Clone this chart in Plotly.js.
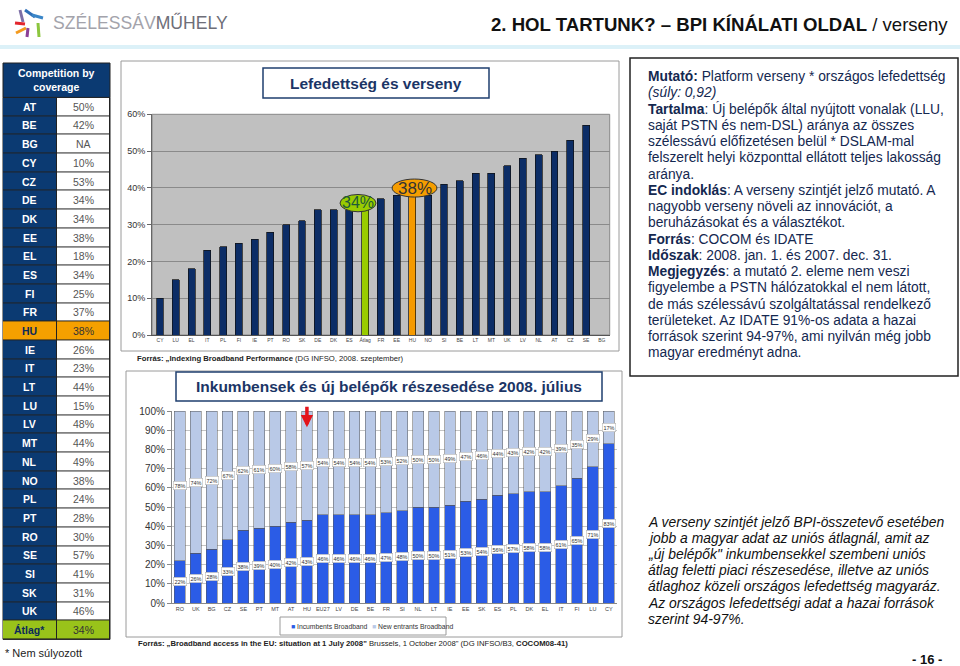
<!DOCTYPE html>
<html><head><meta charset="utf-8">
<script src="https://cdn.plot.ly/plotly-3.0.1.min.js"></script>
<style>html,body{margin:0;padding:0;background:#fff}#chart{width:960px;height:666px}</style>
</head><body><div id="chart"></div>
<script>
// ---- data: left table ----
const tableCountries = ['AT','BE','BG','CY','CZ','DE','DK','EE','EL','ES','FI','FR','HU','IE','IT','LT','LU','LV','MT','NL','NO','PL','PT','RO','SE','SI','SK','UK','Átlag*'];
const tableValues = ['50%','42%','NA','10%','53%','34%','34%','38%','18%','34%','25%','37%','38%','26%','23%','44%','15%','48%','44%','49%','38%','24%','28%','30%','57%','41%','31%','46%','34%'];
const tableColumns = [0, 1];

// ---- data: coverage & competition chart ----
const covCats = ['CY','LU','EL','IT','PL','FI','IE','PT','RO','SK','DE','DK','ES','Átlag','FR','EE','HU','NO','SI','BE','LT','MT','UK','LV','NL','AT','CZ','SE','BG'];
const covVals = [10,15,18,23,24,25,26,28,30,31,34,34,34,34,37,38,38,38,41,42,44,44,46,48,49,50,53,57,null];

// ---- data: incumbents vs new entrants chart ----
const shareCats = ['RO','UK','BG','CZ','SE','PT','MT','AT','HU','EU27','LV','DE','BE','FR','SI','NL','LT','IE','EE','SK','ES','PL','DK','EL','IT','FI','LU','CY'];
const incumbents = [22,26,28,33,38,39,40,42,43,46,46,46,46,47,48,50,50,51,53,54,56,57,58,58,61,65,71,83];
const newEntrants = [78,74,72,67,62,61,60,58,57,54,54,54,54,53,52,50,50,49,47,46,44,43,42,42,39,35,29,17];

// ---- texts ----
const rightLines = [
  '<b>Mutató:</b> Platform verseny * országos lefedettség',
  '<i>(súly: 0,92)</i>',
  '<b>Tartalma</b>: Új belépők által nyújtott vonalak (LLU,',
  'saját PSTN és nem-DSL) aránya az összes',
  'szélessávú előfizetésen belül * DSLAM-mal',
  'felszerelt helyi központtal ellátott teljes lakosság',
  'aránya.',
  '<b>EC indoklás</b>: A verseny szintjét jelző mutató. A',
  'nagyobb verseny növeli az innovációt, a',
  'beruházásokat és a választékot.',
  '<b>Forrás</b>: COCOM és IDATE',
  '<b>Időszak</b>: 2008. jan. 1. és 2007. dec. 31.',
  '<b>Megjegyzés</b>: a mutató 2. eleme nem veszi',
  'figyelembe a PSTN hálózatokkal el nem látott,',
  'de más szélessávú szolgáltatással rendelkező',
  'területeket. Az IDATE 91%-os adata a hazai',
  'források szerint 94-97%, ami nyilván még jobb',
  'magyar eredményt adna.'
];
const noteLines = [
  'A verseny szintjét jelző BPI-összetevő esetében',
  'jobb a magyar adat az uniós átlagnál, amit az',
  '„új belépők" inkumbensekkel szembeni uniós',
  'átlag feletti piaci részesedése, illetve az uniós',
  'átlaghoz közeli országos lefedettség magyaráz.',
  'Az országos lefedettségi adat a hazai források',
  'szerint 94-97%.'
];

const W = 960, H = 666;
const px = x => x / W, py = y => 1 - y / H;
const FONT = 'Liberation Sans, Arial, sans-serif';
const NAVY = '#0b3a72', ORANGE = '#f5a000', GREEN = '#99c31a';

// table cell colour codes: 0 navy, 1 white, 2 orange, 3 green
const rowCode = c => c === 'HU' ? 2 : (c === 'Átlag*' ? 3 : -1);
const tableZ = tableCountries.map(c => rowCode(c) >= 0 ? [rowCode(c), rowCode(c)] : [0, 1]);

const covColors = covCats.map(c => c === 'Átlag' ? '#99cc00' : (c === 'HU' ? '#f59a00' : '#0c2d66'));

const traces = [
  {
    type: 'heatmap', x: tableColumns, y: tableCountries, z: tableZ, xaxis: 'x3', yaxis: 'y3',
    zmin: 0, zmax: 3, showscale: false, xgap: 1, ygap: 1, hoverinfo: 'skip',
    colorscale: [[0, NAVY], [0.1667, NAVY], [0.1667, '#ffffff'], [0.5, '#ffffff'], [0.5, ORANGE], [0.8333, ORANGE], [0.8333, GREEN], [1, GREEN]]
  },
  {
    type: 'bar', x: covCats, y: covVals, xaxis: 'x', yaxis: 'y',
    width: 0.44, showlegend: false, hoverinfo: 'skip',
    marker: {color: covColors, line: {color: '#111', width: 0.7}}
  },
  {
    type: 'bar', x: shareCats, y: incumbents, xaxis: 'x2', yaxis: 'y2',
    name: 'Incumbents Broadband', width: 0.68, hoverinfo: 'skip', showlegend: false,
    marker: {color: '#2b5ce6', line: {color: '#555', width: 0.5}}
  },
  {
    type: 'bar', x: shareCats, y: newEntrants, xaxis: 'x2', yaxis: 'y2',
    name: 'New entrants Broadband', width: 0.68, hoverinfo: 'skip', showlegend: false,
    marker: {color: '#b9c9e7', line: {color: '#555', width: 0.5}}
  }
];

const annotations = [];
// header
annotations.push({xref:'paper', yref:'paper', x:px(950), y:py(25), xanchor:'right', yanchor:'middle', showarrow:false,
  text:'<b>2. HOL TARTUNK? – BPI KÍNÁLATI OLDAL</b> / verseny', font:{family:'Liberation Sans Narrow, Arial Narrow, Liberation Sans', size:18.6, color:'#111'}});
annotations.push({xref:'paper', yref:'paper', x:px(51), y:py(23), xanchor:'left', yanchor:'middle', showarrow:false,
  text:'<span style="color:#a3a3ab">SZÉLESSÁV</span><span style="color:#6e6e78">MŰHELY</span>', font:{family:'Liberation Sans Narrow, Arial Narrow, Liberation Sans', size:17.6}});
// table header, cells text + footnote
annotations.push({xref:'paper', yref:'paper', x:px(56.5), y:py(80), xanchor:'center', yanchor:'middle', showarrow:false,
  text:'<b>Competition by<br>coverage</b>', font:{family:FONT, size:10.5, color:'#fff'}});
tableCountries.forEach((c, i) => {
  const special = rowCode(c) >= 0;
  annotations.push({xref:'x3', yref:'y3', x:tableColumns[0], y:c, showarrow:false, text:'<b>' + c + '</b>',
    font:{family:FONT, size:10.5, color: special ? '#0b2a5a' : '#ffffff'}});
  annotations.push({xref:'x3', yref:'y3', x:tableColumns[1], y:c, showarrow:false, text:tableValues[i],
    font:{family:FONT, size:10.5, color: special ? '#333' : '#555'}});
});
annotations.push({xref:'paper', yref:'paper', x:px(3), y:py(653), xanchor:'left', yanchor:'middle', showarrow:false,
  text:'* Nem súlyozott', font:{family:FONT, size:11, color:'#222'}});
// chart titles
annotations.push({xref:'paper', yref:'paper', x:px(376), y:py(83), xanchor:'center', yanchor:'middle', showarrow:false,
  text:'<b>Lefedettség és verseny</b>', font:{family:FONT, size:15.5, color:'#1b3566'}});
annotations.push({xref:'paper', yref:'paper', x:px(389), y:py(386.5), xanchor:'center', yanchor:'middle', showarrow:false,
  text:'<b>Inkumbensek és új belépők részesedése 2008. július</b>', font:{family:FONT, size:15.5, color:'#1b3566'}});
// sources
annotations.push({xref:'paper', yref:'paper', x:px(135), y:py(358), xanchor:'left', yanchor:'middle', showarrow:false,
  text:'<b>Forrás: „Indexing Broadband Performance</b> (DG INFSO, 2008. szeptember)', font:{family:FONT, size:7.7, color:'#222'}});
annotations.push({xref:'paper', yref:'paper', x:px(136), y:py(643), xanchor:'left', yanchor:'middle', showarrow:false,
  text:'<b>Forrás: „Broadband access in the EU: situation at 1 July 2008"</b> Brussels, 1 October 2008" (DG INFSO/B3, <b>COCOM08-41)</b>', font:{family:FONT, size:7.7, color:'#222'}});
// callouts
const iAvg = covCats.indexOf('Átlag'), iHU = covCats.indexOf('HU');
annotations.push({xref:'x', yref:'y', x:iAvg - 0.45, y:covVals[iAvg] + 1.9, showarrow:false, text:'34%',
  font:{family:FONT, size:16, color:'#1d5a3a'}});
annotations.push({xref:'x', yref:'y', x:iHU + 0.13, y:covVals[iHU] + 1.95, showarrow:false, text:'38%',
  font:{family:FONT, size:17, color:'#333'}});
// red arrow at HU
annotations.push({xref:'x2', yref:'y2', x:'HU', y:91.5, ax:0, ay:-22, showarrow:true, arrowhead:2, arrowsize:0.7,
  arrowwidth:3.5, arrowcolor:'#e3141b', text:''});
// bar labels
shareCats.forEach((c, i) => {
  annotations.push({xref:'x2', yref:'y2', x:c, y:incumbents[i] / 2, showarrow:false, text:incumbents[i] + '%',
    font:{family:FONT, size:5.5, color:'#333'}, bgcolor:'#fff', bordercolor:'#aaa', borderwidth:0.5, borderpad:1});
  annotations.push({xref:'x2', yref:'y2', x:c, y:incumbents[i] + newEntrants[i] / 2, showarrow:false, text:newEntrants[i] + '%',
    font:{family:FONT, size:5.5, color:'#333'}, bgcolor:'#fff', bordercolor:'#aaa', borderwidth:0.5, borderpad:1});
});
// manual legend
annotations.push({xref:'paper', yref:'paper', x:px(289), y:py(626), xanchor:'left', yanchor:'middle', showarrow:false,
  text:'<span style="color:#2b5ce6">■</span> Incumbents Broadband', font:{family:FONT, size:6.8, color:'#333'}});
annotations.push({xref:'paper', yref:'paper', x:px(370), y:py(626), xanchor:'left', yanchor:'middle', showarrow:false,
  text:'<span style="color:#b9c9e7">■</span> New entrants Broadband', font:{family:FONT, size:6.8, color:'#333'}});
// right text
rightLines.forEach((t, i) => {
  annotations.push({xref:'paper', yref:'paper', x:px(646), y:py(76.7 + i * 16.24), xanchor:'left', yanchor:'middle',
    showarrow:false, text:t, font:{family:FONT, size:13.8, color:'#142850'}});
});
noteLines.forEach((t, i) => {
  annotations.push({xref:'paper', yref:'paper', x:px(646), y:py(521.5 + i * 16.2), xanchor:'left', yanchor:'middle',
    showarrow:false, text:'<i>' + t + '</i>', font:{family:FONT, size:13.9, color:'#111'}});
});
annotations.push({xref:'paper', yref:'paper', x:px(944), y:py(659), xanchor:'right', yanchor:'middle', showarrow:false,
  text:'<b>- 16 -</b>', font:{family:FONT, size:13, color:'#111'}});

const stick = (x0, y0, x1, y1, c) => ({type:'line', xref:'paper', yref:'paper', x0:px(x0), y0:py(y0), x1:px(x1), y1:py(y1), line:{color:c, width:3}});

const shapes = [
  // header band
  {type:'rect', xref:'paper', yref:'paper', x0:0, x1:1, y0:py(49), y1:py(45), fillcolor:'#dcf1f8', line:{width:0}},
  // logo sticks
  stick(20, 10, 23, 22, '#7d6fa6'),
  stick(25, 10, 35, 17, '#2f6fb8'),
  stick(32, 15, 43, 18, '#3a86c8'),
  stick(15, 23, 25, 24, '#e3262d'),
  stick(16, 33, 26, 28, '#f39a1e'),
  stick(28, 28, 27, 37, '#8b3f97'),
  stick(38, 23, 39, 37, '#8cc63f'),
  // table backdrop (gap colour), header, outline
  {type:'rect', xref:'x3 domain', yref:'y3 domain', x0:0, x1:1, y0:0, y1:1, fillcolor:'#222', line:{color:'#222', width:1}, layer:'below'},
  {type:'rect', xref:'paper', yref:'paper', x0:px(3), x1:px(110), y0:py(97.4), y1:py(63), fillcolor:NAVY, line:{color:'#222', width:1}},
  // top chart frame
  {type:'rect', xref:'paper', yref:'paper', x0:px(121), x1:px(619), y0:py(351), y1:py(61), line:{color:'#9a9a9a', width:1}},
  // top plot background
  {type:'rect', xref:'x domain', yref:'y domain', x0:0, x1:1, y0:0, y1:1, fillcolor:'#c0c0c0', line:{color:'#888', width:1}, layer:'below'},
  // top title box
  {type:'rect', xref:'paper', yref:'paper', x0:px(263), x1:px(489), y0:py(98), y1:py(68), fillcolor:'#fff', line:{color:'#1f3f6f', width:1.5}},
  // callout ellipses
  {type:'circle', xref:'x', yref:'y', x0:iAvg - 0.45 - 1.14, x1:iAvg - 0.45 + 1.14, y0:covVals[iAvg] - 0.5, y1:covVals[iAvg] + 4.2,
    fillcolor:'#99cc00', line:{color:'#333', width:1}},
  {type:'circle', xref:'x', yref:'y', x0:iHU + 0.13 - 1.42, x1:iHU + 0.13 + 1.42, y0:covVals[iHU] - 0.5, y1:covVals[iHU] + 4.4,
    fillcolor:'#f59d00', line:{color:'#333', width:1}},
  // bottom chart frame
  {type:'rect', xref:'paper', yref:'paper', x0:px(126), x1:px(622), y0:py(637), y1:py(371), line:{color:'#9a9a9a', width:1}},
  // bottom legend box
  {type:'rect', xref:'paper', yref:'paper', x0:px(280), x1:px(446), y0:py(635), y1:py(617), fillcolor:'#fff', line:{color:'#9a9a9a', width:1}},
  // bottom title box
  {type:'rect', xref:'paper', yref:'paper', x0:px(176), x1:px(602), y0:py(401), y1:py(372), fillcolor:'#fff', line:{color:'#1f3f6f', width:1.5}},
  // right text box
  {type:'rect', xref:'paper', yref:'paper', x0:px(630), x1:px(958), y0:py(376), y1:py(58), line:{color:'#222', width:1.5}}
];

const layout = {
  width: W, height: H,
  margin: {l:0, r:0, t:0, b:0},
  paper_bgcolor: '#fff', plot_bgcolor: 'rgba(0,0,0,0)',
  font: {family: FONT, color: '#333'},
  barmode: 'stack',
  showlegend: false,
  xaxis: {domain:[px(152.1), px(609.7)], anchor:'y', type:'category', showgrid:false, ticks:'', fixedrange:true,
    tickfont:{size:5, color:'#444'}, showline:true, linecolor:'#555', tickangle:0},
  yaxis: {domain:[py(335), py(114.3)], anchor:'x', range:[0,60], dtick:10, ticksuffix:'%', gridcolor:'#8a8a8a',
    showline:true, linecolor:'#666', ticks:'outside', ticklen:4, tickcolor:'#666', zeroline:false,
    tickfont:{size:9, color:'#333'}, fixedrange:true},
  xaxis2: {domain:[px(171.9), px(616.7)], anchor:'y2', type:'category', showgrid:false, ticks:'', fixedrange:true,
    tickfont:{size:5.5, color:'#444'}, showline:true, linecolor:'#888', tickangle:0},
  yaxis2: {domain:[py(603), py(411)], anchor:'x2', range:[0,100], dtick:10, ticksuffix:'%', gridcolor:'#c4c4c4',
    showline:true, linecolor:'#888', ticks:'outside', ticklen:4, tickcolor:'#888', zeroline:false,
    tickfont:{size:10, color:'#333'}, fixedrange:true},
  xaxis3: {domain:[px(3), px(110)], anchor:'y3', range:[-0.5, 1.5], visible:false, fixedrange:true},
  yaxis3: {domain:[py(639.4), py(97.4)], anchor:'x3', type:'category', autorange:'reversed', visible:false, fixedrange:true},
  shapes: shapes,
  annotations: annotations
};

Plotly.newPlot('chart', traces, layout, {displayModeBar:false, staticPlot:true});
</script>
</body></html>
